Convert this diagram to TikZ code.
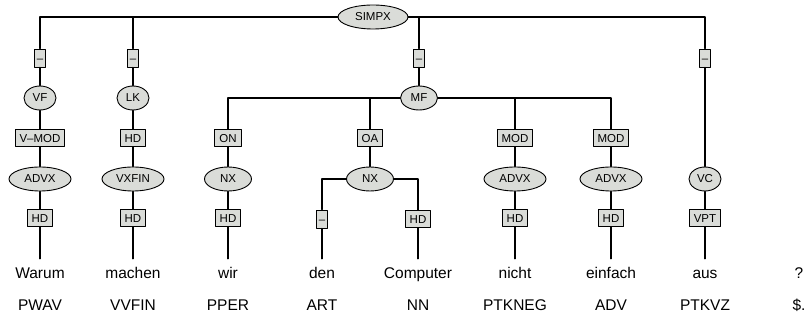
\documentclass[tikz,border=0pt]{standalone}
\usepackage{fontspec}
\setmainfont{Liberation Sans}
\usepackage{tikz}
\usetikzlibrary{shapes.geometric}
\definecolor{nodegray}{RGB}{218,220,216}

\begin{document}
\begin{tikzpicture}[
	x=1pt, y=-1pt,
	every node/.style={font=\fontsize{11.5}{13}\selectfont},
	line cap=round,
	line join=round,
	edge/.style={line width=1.2pt},
	cat/.style={ellipse, draw, line width=0.9pt, fill=nodegray, inner sep=0pt, minimum height=24pt, minimum width=#1},
	cat/.default=32pt,
	fn/.style={rectangle, draw, line width=0.9pt, fill=nodegray, inner xsep=4.5pt, inner ysep=0pt, text height=8.3pt, text depth=0pt, minimum height=17.5pt},
	nofn/.style={fn, inner xsep=2pt, minimum height=18pt},
	word/.style={anchor=base, font=\fontsize{15.5}{18}\selectfont, inner xsep=0pt, inner ysep=8pt, text height=12pt},
	tag/.style={anchor=base, font=\fontsize{15.5}{18}\selectfont, inner sep=0pt}
	]
	\useasboundingbox (0,0) rectangle (806,320);
	
	% Root
	\node[cat=70pt] (simpx) at (373,17) {SIMPX};
	
	% Fields under the root
	\node[nofn] (d1) at (40,58) {–};
	\node[nofn] (d2) at (133,58) {–};
	\node[nofn] (d3) at (419,58) {–};
	\node[nofn] (d4) at (705,58) {–};
	\node[cat] (vf) at (40,98) {VF};
	\node[cat] (lk) at (133,98) {LK};
	\node[cat=37pt] (mf) at (419,98) {MF};
	\node[cat] (vc) at (705,179) {VC};
	
	% Vorfeld and left bracket
	\node[fn] (vmod) at (40,138) {V–MOD};
	\node[cat=62pt] (advx1) at (40,179) {ADVX};
	\node[fn] (hd1) at (40,218) {HD};
	\node[fn] (hd2a) at (133,138) {HD};
	\node[cat=62pt] (vxfin) at (133,179) {VXFIN};
	\node[fn] (hd2) at (133,218) {HD};
	
	% Mittelfeld
	\node[fn] (on) at (228,138) {ON};
	\node[cat=47pt] (nx1) at (228,179) {NX};
	\node[fn] (hd3) at (228,218) {HD};
	\node[fn] (oa) at (370,138) {OA};
	\node[cat=47pt] (nx2) at (370,179) {NX};
	\node[nofn] (d5) at (322,219) {–};
	\node[fn] (hd5) at (418,219) {HD};
	\node[fn] (mod1) at (515,138) {MOD};
	\node[cat=62pt] (advx2) at (515,179) {ADVX};
	\node[fn] (hd6) at (515,218) {HD};
	\node[fn] (mod2) at (611,138) {MOD};
	\node[cat=62pt] (advx3) at (611,179) {ADVX};
	\node[fn] (hd7) at (611,218) {HD};
	
	% Verbal complex
	\node[fn] (vpt) at (705,218) {VPT};
	
	% Words and tags
	\foreach \x/\w/\t/\n in {40/Warum/PWAV/1, 133/machen/VVFIN/2, 228/wir/PPER/3,
		322/den/ART/4, 418/Computer/NN/5, 515/nicht/PTKNEG/6, 611/einfach/ADV/7,
		705/aus/PTKVZ/8, 799/?/\$./9}
	{
		\node[word] (w\n) at (\x,279) {\w};
		\node[tag] (t\n) at (\x,311) {\t};
	}
	
	% Edges
	\foreach \c in {d1,d2,d3,d4}
	\draw[edge] (simpx) -| (\c);
	\draw[edge] (d1) -- (vf) -- (vmod) -- (advx1) -- (hd1) -- (w1);
	\draw[edge] (d2) -- (lk) -- (hd2a) -- (vxfin) -- (hd2) -- (w2);
	\draw[edge] (d3) -- (mf);
	\foreach \c in {on,oa,mod1,mod2}
	\draw[edge] (mf) -| (\c);
	\draw[edge] (on) -- (nx1) -- (hd3) -- (w3);
	\draw[edge] (oa) -- (nx2);
	\draw[edge] (nx2) -| (d5);
	\draw[edge] (nx2) -| (hd5);
	\draw[edge] (d5) -- (w4);
	\draw[edge] (hd5) -- (w5);
	\draw[edge] (mod1) -- (advx2) -- (hd6) -- (w6);
	\draw[edge] (mod2) -- (advx3) -- (hd7) -- (w7);
	\draw[edge] (d4) -- (vc) -- (vpt) -- (w8);
\end{tikzpicture}
\end{document}
